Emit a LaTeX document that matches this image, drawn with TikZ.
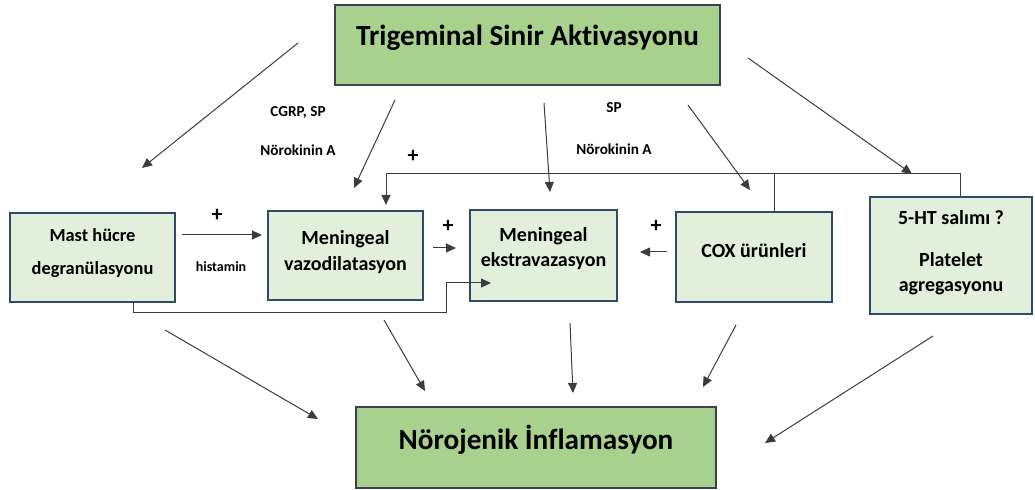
\documentclass[tikz,border=0pt]{standalone}
\usepackage{fontspec}
\setmainfont{Carlito}[Ligatures=NoCommon]
\usetikzlibrary{arrows.meta,positioning}

\definecolor{midgreen}{HTML}{A9D18E}
\definecolor{palegreen}{HTML}{E2EFDA}
\definecolor{darkline}{HTML}{3A4250}
\definecolor{navyline}{HTML}{2F4A6B}
\definecolor{linegray}{HTML}{3C3C3C}

\begin{document}
\begin{tikzpicture}[x=0.5pt,y=-0.5pt,
    bigbox/.style={draw=darkline,fill=midgreen,line width=0.8pt,text depth=10pt,
      font=\fontsize{14.6}{16}\selectfont\bfseries},
    smallbox/.style={draw=navyline,fill=palegreen,line width=0.8pt,align=center,
      font=\fontsize{10}{12.8}\selectfont\bfseries},
    conn/.style={draw=linegray,line width=0.5pt},
    arr/.style={conn,-{Triangle[length=5pt,width=4.5pt]}},
    lbl/.style={font=\fontsize{7.6}{8}\selectfont\bfseries},
    plus/.style={font=\fontsize{11}{12}\selectfont\bfseries}]

      \useasboundingbox (0,0) rectangle (1035,490);

      \node[bigbox,minimum width=192.5pt,minimum height=40pt] (trig) at (527.5,45) {Trigeminal Sinir Aktivasyonu};
      \node[bigbox,minimum width=180pt,minimum height=40.5pt] (noro) at (536,447.5) {Nörojenik İnflamasyon};

      \node[smallbox,minimum width=82.5pt,minimum height=44.5pt,text depth=6pt,
        font=\fontsize{9.2}{12.5}\selectfont\bfseries] (mast) at (92.5,257.5) {Mast hücre\\[4pt]degranülasyonu};
      \node[smallbox,minimum width=77.5pt,minimum height=44.5pt,text depth=5pt] (vazo) at (345.5,255.5) {Meningeal\\vazodilatasyon};
      \node[smallbox,minimum width=73.5pt,minimum height=45.5pt,text depth=8.5pt] (ekstra) at (543.5,255.5) {Meningeal\\ekstravazasyon};
      \node[smallbox,minimum width=78pt,minimum height=45pt,text depth=7pt] (cox) at (754,257) {COX ürünleri};
      \node[smallbox,minimum width=81pt,minimum height=58.5pt,text depth=4.5pt] (sht) at (951,255.5) {5-HT salımı ?\\[8pt]Platelet\\agregasyonu};

      \node[lbl] (cgrp) at (298,113) {CGRP, SP};
      \node[lbl] (nkA) at (298,150) {Nörokinin A};
      \node[lbl] (sp) at (614,108) {SP};
      \node[lbl] (nkB) at (614,149) {Nörokinin A};
      \node[lbl,font=\fontsize{7}{7}\selectfont\bfseries] (hist) at (221,267) {histamin};
      \node[plus] (plusA) at (413,156) {+};
      \node[plus] (plusB) at (217,215) {+};
      \node[plus] (plusC) at (448,226) {+};
      \node[plus] (plusD) at (656,226) {+};

      % ends of the free connectors
      \coordinate (t1) at (298,43);  \coordinate (e1) at (142,168);
      \coordinate (t2) at (395,100); \coordinate (e2) at (354,188);
      \coordinate (t3) at (544,103); \coordinate (e3) at (550,192);
      \coordinate (t4) at (688,105); \coordinate (e4) at (750,190);
      \coordinate (t5) at (748,58);  \coordinate (e5) at (912,174);
      \coordinate (h1) at (182,235); \coordinate (h2) at (262,235);
      \coordinate (h3) at (433,248); \coordinate (h4) at (456,248);
      \coordinate (h5) at (667,252); \coordinate (h6) at (640,252);
      \coordinate (md) at (133,313); \coordinate (mr) at (446,313);
      \coordinate (mu) at (446,283); \coordinate (mi) at (491,283);
      \coordinate (barL) at (386,174); \coordinate (barC) at (774,174);
      \coordinate (barR) at (960,174); \coordinate (vin) at (386,205);
      \coordinate (s1) at (165,330); \coordinate (f1) at (318,419);
      \coordinate (s2) at (384,320); \coordinate (f2) at (425,391);
      \coordinate (s3) at (570,323); \coordinate (f3) at (573,393);
      \coordinate (s4) at (736,325); \coordinate (f4) at (703,387);
      \coordinate (s5) at (933,336); \coordinate (f5) at (765,443);

      \draw[arr] (t1) -- (e1);
      \draw[arr] (t2) -- (e2);
      \draw[arr] (t3) -- (e3);
      \draw[arr] (t4) -- (e4);
      \draw[arr] (t5) -- (e5);

      \draw[arr] (h1) -- (h2);
      \draw[arr] (h3) -- (h4);
      \draw[arr] (h5) -- (h6);
      \draw[arr] (mast.south -| md) -- (md) -- (mr) -- (mu) -- (mi);

      \draw[arr] (sht.north -| barR) -- (barR) -- (barL) -- (vin);
      \draw[conn] (cox.north -| barC) -- (barC);

      \draw[arr] (s1) -- (f1);
      \draw[arr] (s2) -- (f2);
      \draw[arr] (s3) -- (f3);
      \draw[arr] (s4) -- (f4);
      \draw[arr] (s5) -- (f5);

\end{tikzpicture}
\end{document}
